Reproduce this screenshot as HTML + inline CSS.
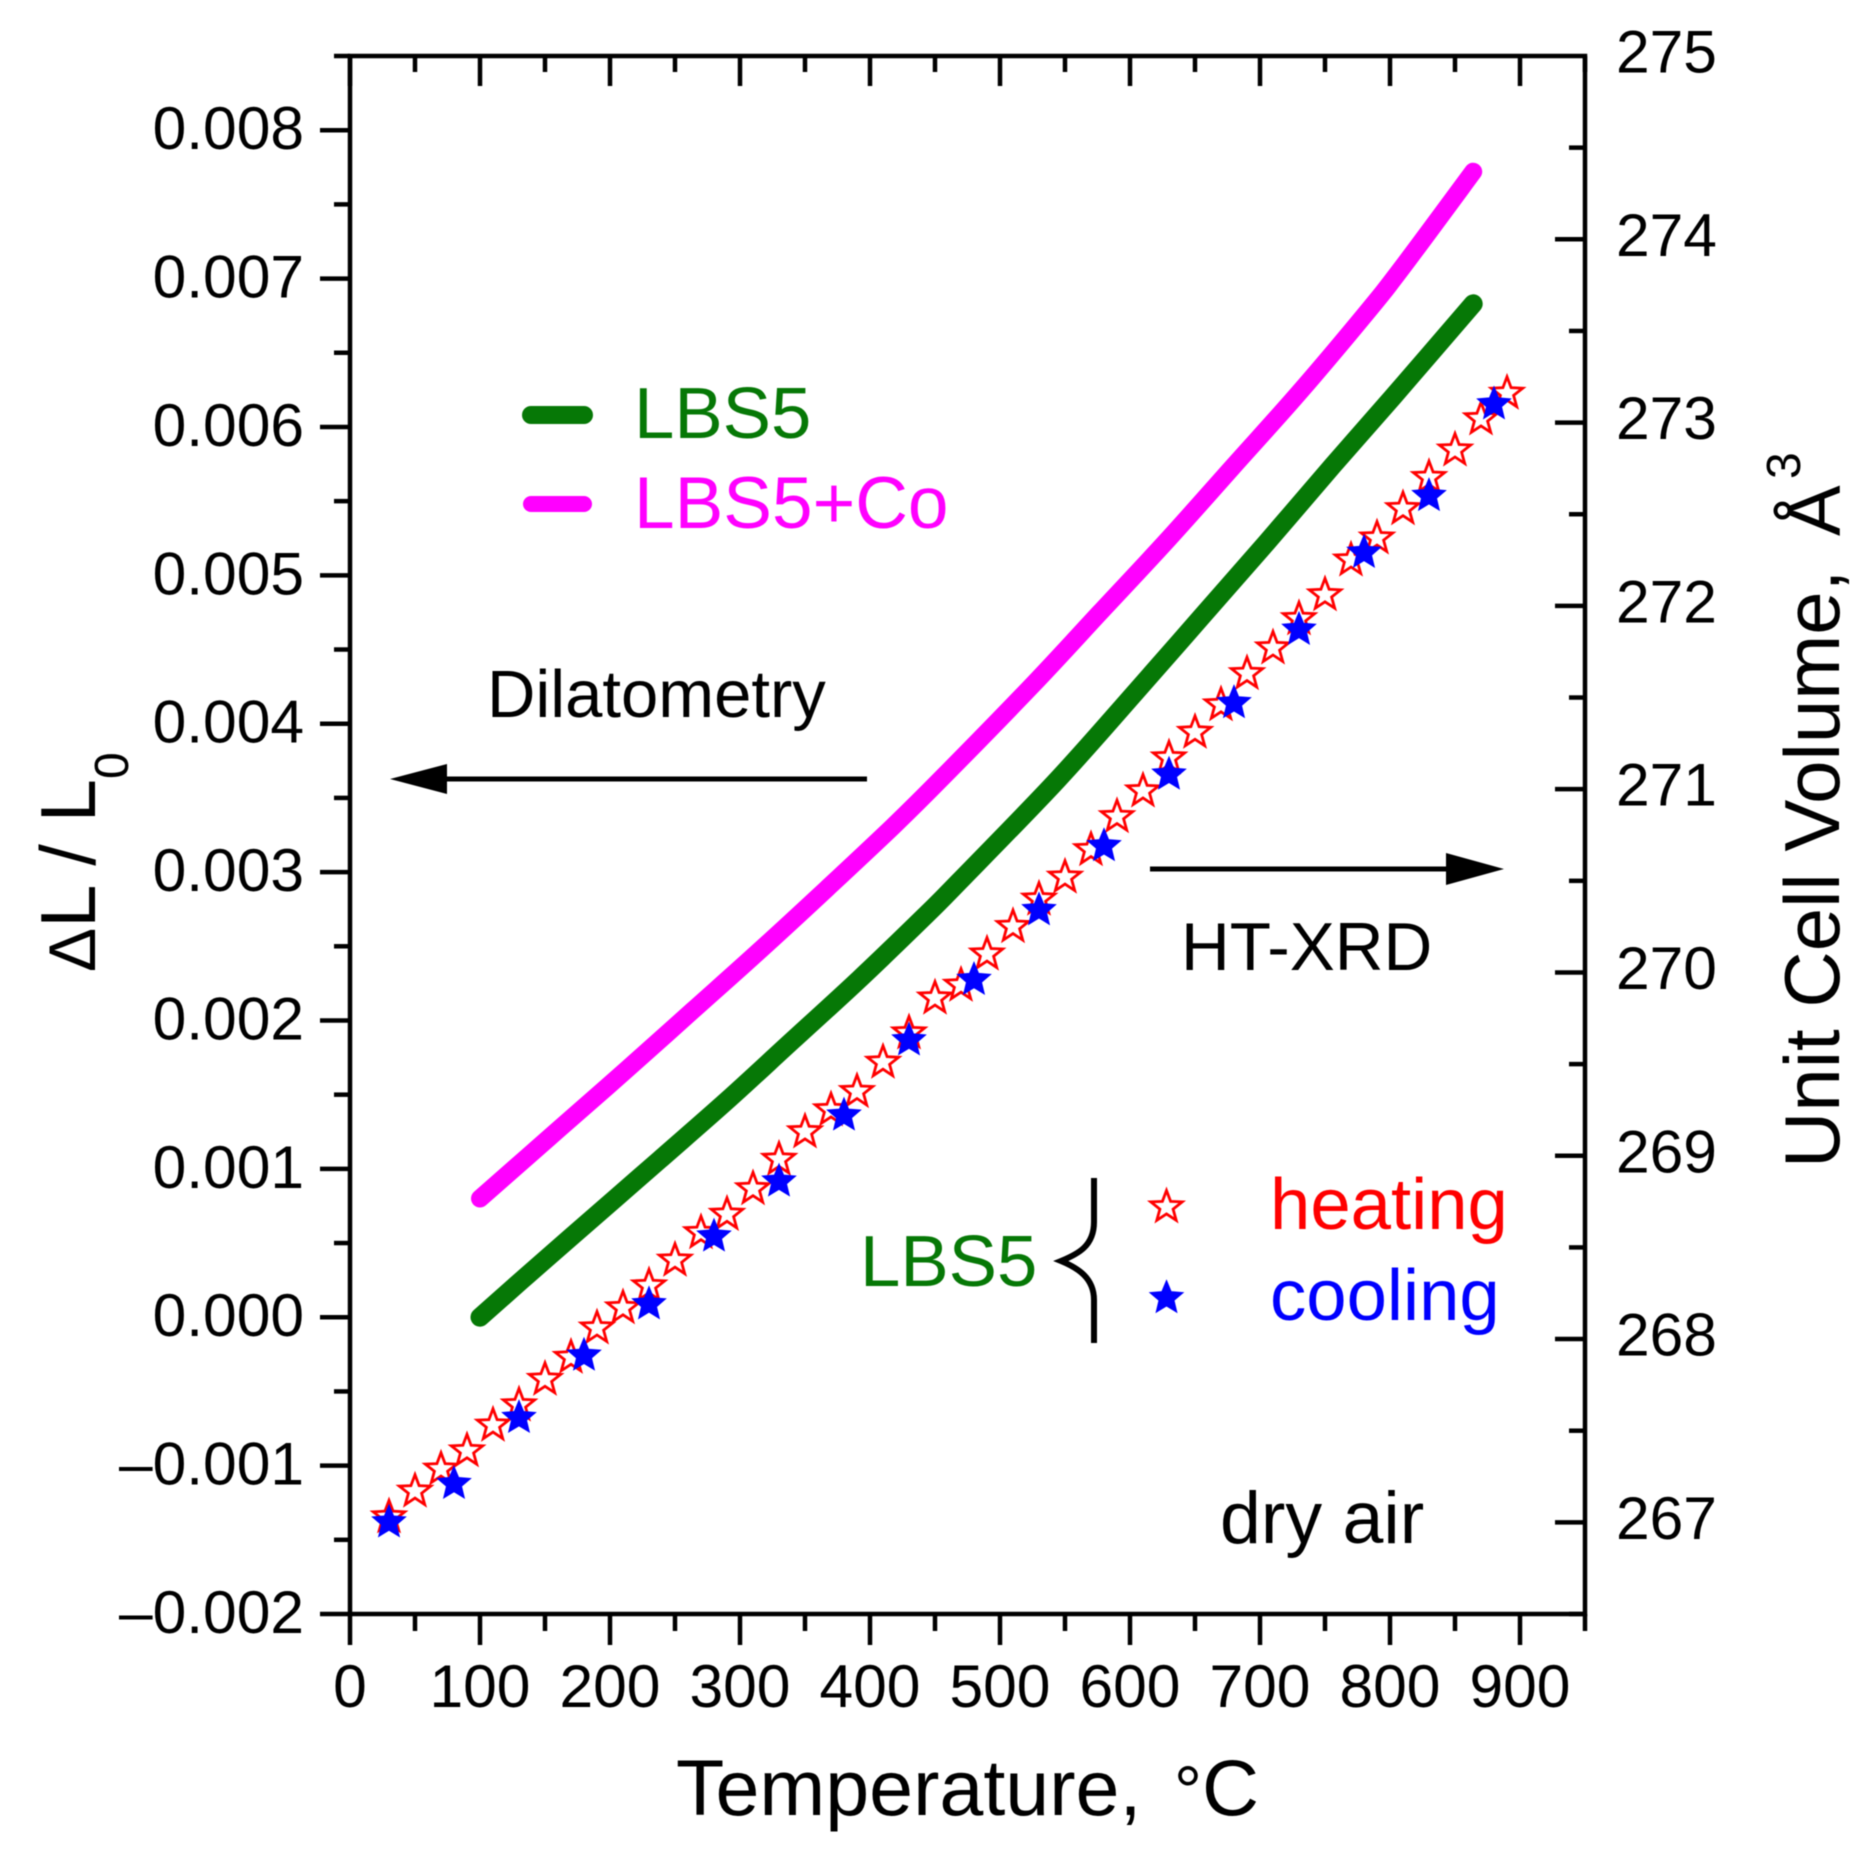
<!DOCTYPE html>
<html lang="en">
<head>
<meta charset="utf-8">
<title>Thermal expansion of LBS5: dilatometry and HT-XRD</title>
<style>
  html, body { margin: 0; padding: 0; background: #fff; }
  #chart { display: block; width: 1876px; height: 1866px; filter: blur(0.6px); }
  text { font-family: "Liberation Sans", "DejaVu Sans", sans-serif; }
</style>
</head>
<body>
<svg id="chart" xmlns="http://www.w3.org/2000/svg" width="1876" height="1866" viewBox="0 0 1876 1866">
  <rect x="0" y="0" width="1876" height="1866" fill="#fff"/>
  <g id="ticks" stroke="#000" stroke-width="4.5" fill="none"></g>
  <g id="labels" font-size="60.5" fill="#000"></g>
  <g id="lines" fill="none" stroke-linecap="round" stroke-linejoin="round"></g>
  <g id="points"></g>
  <rect x="350" y="56" width="1235" height="1558" fill="none" stroke="#000" stroke-width="4.5"/>

  <text x="676" y="1815" font-size="79" fill="#000">Temperature,<tspan x="1174" font-size="70">°</tspan><tspan x="1202">C</tspan></text>
  <text transform="translate(95 972) rotate(-90)" font-size="78" fill="#000"><tspan font-size="66">Δ</tspan>L / L<tspan font-size="48" dy="33">0</tspan></text>
  <text transform="translate(1839 1168) rotate(-90)" font-size="78" fill="#000">Unit Cell Volume,</text>
  <text transform="translate(1840 536) rotate(-90)" font-size="76" fill="#000">Å</text>
  <text transform="translate(1800 479) rotate(-90)" font-size="48" fill="#000">3</text>

  <line x1="531" y1="415" x2="584" y2="415" stroke="#067806" stroke-width="18" stroke-linecap="round"/>
  <text x="634" y="438" font-size="72.5" fill="#067806">LBS5</text>
  <line x1="531" y1="504" x2="584" y2="504" stroke="#ff00ff" stroke-width="16" stroke-linecap="round"/>
  <text x="634" y="528" font-size="73" fill="#ff00ff">LBS5+Co</text>

  <text x="487" y="717" font-size="67" fill="#000">Dilatometry</text>
  <line x1="867" y1="779" x2="430" y2="779" stroke="#000" stroke-width="5"/>
  <polygon points="390,779 447,764 447,794" fill="#000"/>

  <text x="1181" y="970" font-size="67.5" fill="#000">HT-XRD</text>
  <line x1="1150" y1="869" x2="1460" y2="869" stroke="#000" stroke-width="5"/>
  <polygon points="1504,869 1446,853 1446,885" fill="#000"/>

  <text x="860" y="1286" font-size="72.5" fill="#067806">LBS5</text>
  <path d="M1094,1178 V1222 C1094,1246 1078,1254 1061,1261 C1078,1268 1094,1278 1094,1300 V1343" fill="none" stroke="#000" stroke-width="6"/>
  <g id="legendStars"></g>
  <text x="1270" y="1229" font-size="72.5" fill="#ff0000">heating</text>
  <text x="1270" y="1320" font-size="72.5" fill="#0000ff">cooling</text>
  <text x="1220" y="1543" font-size="73.5" fill="#000">dry air</text>
</svg>
<script>
const xMajorTicks = [0, 100, 200, 300, 400, 500, 600, 700, 800, 900];
const xMinorTicks = [50, 150, 250, 350, 450, 550, 650, 750, 850, 950];
const leftMajorTicks = [-0.002, -0.001, 0, 0.001, 0.002, 0.003, 0.004, 0.005, 0.006, 0.007, 0.008];
const leftMinorTicks = [-0.0015, -0.0005, 0.0005, 0.0015, 0.0025, 0.0035, 0.0045, 0.0055, 0.0065, 0.0075, 0.0085];
const leftTickLabels = ["\u20130.002", "\u20130.001", "0.000", "0.001", "0.002", "0.003", "0.004", "0.005", "0.006", "0.007", "0.008"];
const rightMajorTicks = [267, 268, 269, 270, 271, 272, 273, 274, 275];
const rightMinorTicks = [266.5, 267.5, 268.5, 269.5, 270.5, 271.5, 272.5, 273.5, 274.5];

const lbs5Temps = [100, 136, 187, 238, 290, 341, 392, 443, 469, 544, 603, 654, 705, 756, 802, 864];
const lbs5Strain = [0, 0.00028, 0.00067, 0.00106, 0.00146, 0.00187, 0.00228, 0.00271, 0.00294, 0.00362, 0.0042, 0.00471, 0.00522, 0.00574, 0.0062, 0.00683];
const lbs5CoTemps = [100, 161, 213, 264, 315, 367, 418, 456, 526, 577, 628, 679, 731, 782, 809, 864];
const lbs5CoStrain = [0.0008, 0.00127, 0.00167, 0.00207, 0.00247, 0.00289, 0.00331, 0.00364, 0.00427, 0.00475, 0.00523, 0.00573, 0.00624, 0.00677, 0.00707, 0.00772];

const heatingTemps = [30, 50, 70, 90, 110, 130, 150, 170, 190, 210, 230, 250, 270, 290, 310, 330, 350, 370, 390, 410, 430, 450, 470, 490, 510, 530, 550, 570, 590, 610, 630, 650, 670, 690, 710, 730, 750, 770, 790, 810, 830, 850, 870, 890];
const heatingVolume = [267.03, 267.17, 267.29, 267.39, 267.53, 267.64, 267.78, 267.9, 268.06, 268.17, 268.29, 268.43, 268.58, 268.68, 268.82, 268.98, 269.13, 269.25, 269.35, 269.51, 269.67, 269.86, 269.93, 270.1, 270.25, 270.4, 270.52, 270.67, 270.85, 270.99, 271.17, 271.31, 271.46, 271.63, 271.77, 271.93, 272.06, 272.25, 272.37, 272.53, 272.7, 272.85, 273.02, 273.16];
const coolingTemps = [30, 80, 130, 180, 230, 280, 330, 380, 430, 480, 530, 580, 630, 680, 730, 780, 830, 880];
const coolingVolume = [267, 267.21, 267.57, 267.91, 268.19, 268.56, 268.86, 269.22, 269.63, 269.96, 270.34, 270.69, 271.08, 271.47, 271.87, 272.29, 272.6, 273.1];

const SVG_NS = "http://www.w3.org/2000/svg";
const PLOT = { left: 350, right: 1585, top: 56, bottom: 1614 };
const xScale = t => PLOT.left + (t / 950) * (PLOT.right - PLOT.left);
const yLeft = v => PLOT.bottom - ((v + 0.002) / 0.0105) * (PLOT.bottom - PLOT.top);
const yRight = v => PLOT.bottom - ((v - 266.5) / 8.5) * (PLOT.bottom - PLOT.top);

function make(parent, tag, attrs) {
  const el = document.createElementNS(SVG_NS, tag);
  Object.keys(attrs).forEach(k => el.setAttribute(k, attrs[k]));
  parent.appendChild(el);
  return el;
}
function starPoints(cx, cy, R, ratio) {
  const r = R * ratio;
  const pts = [];
  for (let i = 0; i < 10; i++) {
    const a = -Math.PI / 2 + i * Math.PI / 5;
    const rad = i % 2 ? r : R;
    pts.push((cx + rad * Math.cos(a)).toFixed(1) + "," + (cy + rad * Math.sin(a)).toFixed(1));
  }
  return pts.join(" ");
}
function smoothPath(temps, values) {
  const p = temps.map((t, i) => [xScale(t), yLeft(values[i])]);
  let d = "M" + p[0][0].toFixed(1) + "," + p[0][1].toFixed(1);
  for (let i = 0; i < p.length - 1; i++) {
    const a = p[Math.max(i - 1, 0)], b = p[i], c = p[i + 1], e = p[Math.min(i + 2, p.length - 1)];
    const c1x = b[0] + (c[0] - a[0]) / 6, c1y = b[1] + (c[1] - a[1]) / 6;
    const c2x = c[0] - (e[0] - b[0]) / 6, c2y = c[1] - (e[1] - b[1]) / 6;
    d += " C" + c1x.toFixed(1) + "," + c1y.toFixed(1) + " " + c2x.toFixed(1) + "," + c2y.toFixed(1) + " " + c[0].toFixed(1) + "," + c[1].toFixed(1);
  }
  return d;
}

const ticks = document.getElementById("ticks");
const labels = document.getElementById("labels");
const lines = document.getElementById("lines");
const points = document.getElementById("points");
const legendStars = document.getElementById("legendStars");

xMajorTicks.forEach(t => {
  const x = xScale(t);
  const b = make(ticks, "line", { x1: x, x2: x, y1: PLOT.bottom, y2: PLOT.bottom + 31 });
  
  
  const u = make(ticks, "line", { x1: x, x2: x, y1: PLOT.top, y2: PLOT.top + 30 });
  
  
  const l = make(labels, "text", { x: x, y: PLOT.bottom + 93, "text-anchor": "middle" });
  l.textContent = String(t);
  
  
});
xMinorTicks.forEach(t => {
  const x = xScale(t);
  const b = make(ticks, "line", { x1: x, x2: x, y1: PLOT.bottom, y2: PLOT.bottom + 17 });
  
  
  const u = make(ticks, "line", { x1: x, x2: x, y1: PLOT.top, y2: PLOT.top + 16 });
  
  
});
leftMajorTicks.forEach((v, i) => {
  const y = yLeft(v);
  const t = make(ticks, "line", { x1: PLOT.left - 30, x2: PLOT.left, y1: y, y2: y });
  
  
  const l = make(labels, "text", { x: 304, y: y + 19, "text-anchor": "end" });
  l.textContent = leftTickLabels[i];
  
  
});
leftMinorTicks.forEach(v => {
  const y = yLeft(v);
  const t = make(ticks, "line", { x1: PLOT.left - 16, x2: PLOT.left, y1: y, y2: y });
  
  
});
rightMajorTicks.forEach(v => {
  const y = yRight(v);
  if (v < 275) {
    const t = make(ticks, "line", { x1: PLOT.right - 30, x2: PLOT.right, y1: y, y2: y });
    
    
  }
  const l = make(labels, "text", { x: 1616, y: y + 16.5 });
  l.textContent = String(v);
  
  
});
rightMinorTicks.forEach(v => {
  const y = yRight(v);
  const t = make(ticks, "line", { x1: PLOT.right - 16, x2: PLOT.right, y1: y, y2: y });
  
  
});

const greenLine = make(lines, "path", { d: smoothPath(lbs5Temps, lbs5Strain), stroke: "#067806", "stroke-width": 19 });


const magentaLine = make(lines, "path", { d: smoothPath(lbs5CoTemps, lbs5CoStrain), stroke: "#ff00ff", "stroke-width": 18 });



heatingTemps.forEach((t, i) => {
  const s = make(points, "polygon", { points: starPoints(xScale(t), yRight(heatingVolume[i]), 16.5, 0.42), fill: "#fff", stroke: "#ff0000", "stroke-width": 2.8 });
  
  
});
coolingTemps.forEach((t, i) => {
  const s = make(points, "polygon", { points: starPoints(xScale(t), yRight(coolingVolume[i]), 17.5, 0.45), fill: "#0000ff", stroke: "#0000ff", "stroke-width": 1 });
  
  
});

const heatKey = make(legendStars, "polygon", { points: starPoints(1166.5, 1207, 16.5, 0.42), fill: "#fff", stroke: "#ff0000", "stroke-width": 2.8 });


const coolKey = make(legendStars, "polygon", { points: starPoints(1166.5, 1298, 17.5, 0.45), fill: "#0000ff", stroke: "#0000ff", "stroke-width": 1 });


</script>
</body>
</html>
